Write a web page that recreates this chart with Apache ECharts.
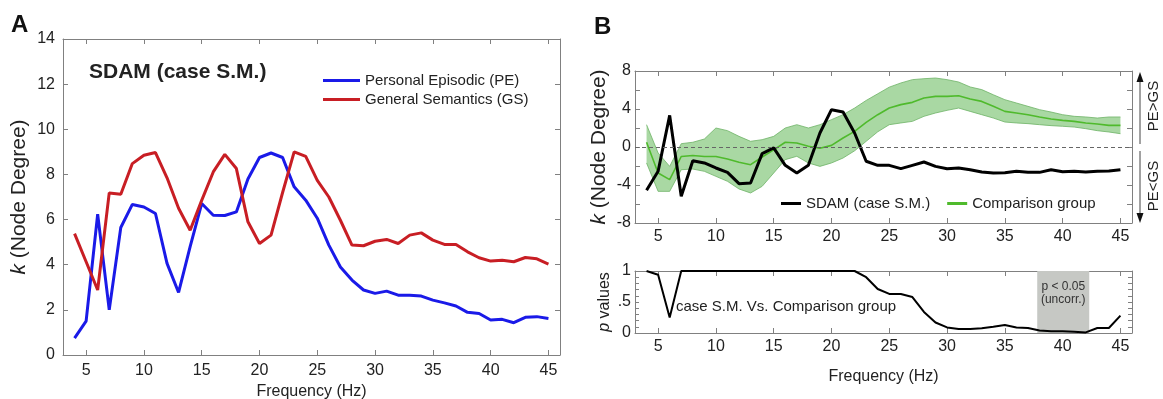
<!DOCTYPE html>
<html>
<head>
<meta charset="utf-8">
<script src="https://cdn.jsdelivr.net/npm/echarts@6/dist/echarts.min.js"></script>
<style>
  html, body { margin: 0; padding: 0; background: #fff; }
  #chart { width: 1163px; height: 399px; }
</style>
</head>
<body>
<div id="chart"></div>
<script>
// frequencies (Hz), shared by every panel
const freq = [4, 5, 6, 7, 8, 9, 10, 11, 12, 13, 14, 15, 16, 17, 18, 19, 20, 21, 22, 23, 24,
  25, 26, 27, 28, 29, 30, 31, 32, 33, 34, 35, 36, 37, 38, 39, 40, 41, 42, 43, 44, 45];
const xTicks = [5, 10, 15, 20, 25, 30, 35, 40, 45];

// panel A
const peDegree = [0.75, 1.5, 6.24, 2.0, 5.65, 6.67, 6.56, 6.27, 4.06, 2.77, 4.8, 6.71, 6.19, 6.18,
  6.34, 7.8, 8.75, 8.95, 8.75, 7.45, 6.86, 6.06, 4.87, 3.9, 3.32, 2.88, 2.73, 2.83, 2.65, 2.65,
  2.61, 2.43, 2.31, 2.17, 1.89, 1.84, 1.55, 1.58, 1.43, 1.67, 1.7, 1.62];
const gsDegree = [5.38, 4.13, 2.88, 7.18, 7.12, 8.48, 8.85, 8.97, 7.85, 6.5, 5.53, 6.85, 8.11, 8.89,
  8.26, 5.9, 4.94, 5.31, 7.2, 9.0, 8.8, 7.74, 7.0, 5.97, 4.87, 4.84, 5.04, 5.12, 4.94, 5.31,
  5.41, 5.09, 4.9, 4.9, 4.57, 4.31, 4.16, 4.2, 4.13, 4.32, 4.26, 4.03];

// panel B, top: PE - GS difference
const sdamDiff = [-4.56, -2.56, 3.33, -5.19, -1.44, -1.68, -2.21, -2.67, -3.86, -3.79, -0.7, -0.1,
  -1.93, -2.74, -1.93, 1.47, 3.93, 3.68, 1.47, -1.5, -1.93, -1.93, -2.28, -1.93, -1.58, -2.04,
  -2.28, -2.21, -2.39, -2.63, -2.74, -2.7, -2.56, -2.67, -2.67, -2.39, -2.6, -2.56, -2.63,
  -2.56, -2.53, -2.39];
const groupMean = [0.5, -2.74, -3.44, -1.0, -0.9, -1.0, -1.0, -1.26, -1.61, -1.86, -1.05, -0.3, 0.5,
  0.42, 0.07, -0.14, 0.17, 0.95, 1.65, 2.6, 3.4, 4.1, 4.46, 4.7, 5.16, 5.33, 5.33, 5.4, 5.05,
  4.8, 4.28, 3.75, 3.58, 3.4, 3.16, 2.95, 2.8, 2.7, 2.53, 2.42, 2.28, 2.28];
const groupUpper = [2.35, -0.63, -2.04, 0.35, 0.5, 0.84, 2.0, 1.72, 1.12, 0.6, 0.77, 1.12, 2.0, 2.35,
  2.0, 2.35, 2.88, 3.4, 4.1, 4.9, 5.6, 6.3, 6.74, 7.09, 7.19, 7.26, 7.09, 6.84, 6.32, 6.04,
  5.5, 4.98, 4.63, 4.28, 3.93, 3.68, 3.4, 3.23, 3.16, 3.05, 3.16, 3.16];
const groupLower = [-1.68, -4.67, -4.67, -2.39, -2.32, -2.56, -3.09, -3.61, -4.42, -4.84, -4.14,
  -2.74, -1.33, -0.98, -1.68, -2.04, -1.68, -1.16, -0.4, 0.6, 1.6, 2.35, 2.53, 2.7, 3.23,
  3.58, 3.86, 4.1, 3.75, 3.4, 3.05, 2.63, 2.53, 2.46, 2.35, 2.25, 2.18, 2.1, 1.93, 1.72,
  1.58, 1.4];

// panel B, bottom: p values
const pValues = [1.0, 0.94, 0.25, 1, 1, 1, 1, 1, 1, 1, 1, 1, 1, 1, 1, 1, 1, 1, 1, 0.9, 0.71,
  0.63, 0.63, 0.58, 0.34, 0.17, 0.09, 0.065, 0.065, 0.076, 0.1, 0.13, 0.09, 0.08, 0.04, 0.03,
  0.03, 0.02, 0.01, 0.08, 0.08, 0.28];
const sigRange = [37.8, 42.3];

const FONT = 'Liberation Sans, Arial, sans-serif';
const AXIS = '#808080';
const TXT = '#222';

const pairs = vals => freq.map((f, i) => [f, vals[i]]);

const xAxisCfg = (gridIndex, position, showLabel, extra) => Object.assign({
  type: 'value',
  gridIndex: gridIndex,
  position: position,
  min: 3,
  max: 46,
  axisLine: { show: true, onZero: false, lineStyle: { color: AXIS, width: 1 } },
  axisTick: { show: true, inside: true, length: 5, customValues: xTicks, lineStyle: { color: AXIS } },
  axisLabel: { show: showLabel, customValues: xTicks, color: TXT, fontSize: 16, fontFamily: FONT, margin: 8 },
  splitLine: { show: false },
}, extra || {});

const yAxisCfg = (gridIndex, position, showLabel, min, max, interval, formatter, extra) => Object.assign({
  type: 'value',
  gridIndex: gridIndex,
  position: position,
  min: min,
  max: max,
  interval: interval,
  axisLine: { show: true, onZero: false, lineStyle: { color: AXIS, width: 1 } },
  axisTick: { show: true, inside: true, length: 5, lineStyle: { color: AXIS } },
  axisLabel: { show: showLabel, color: TXT, fontSize: 16, fontFamily: FONT, margin: 8, formatter: formatter },
  splitLine: { show: false },
}, extra || {});

const kName = {
  name: '{i|k} (Node Degree)',
  nameLocation: 'middle',
  nameTextStyle: {
    color: TXT, fontSize: 21, fontFamily: FONT,
    rich: { i: { fontStyle: 'italic', fontSize: 21, fontFamily: FONT, color: TXT } }
  }
};

// shaded spread of the comparison group, drawn as one polygon in data coordinates
const renderBand = (params, api) => {
  if (params.dataIndex !== 0) return null;
  const top = freq.map((f, i) => api.coord([f, groupUpper[i]]));
  const bottom = freq.map((f, i) => api.coord([f, groupLower[i]])).reverse();
  return {
    type: 'polygon',
    shape: { points: top.concat(bottom) },
    style: { fill: '#a9d8a3', stroke: null },
  };
};

const chart = echarts.init(document.getElementById('chart'));

const option = {
  backgroundColor: '#fff',
  animation: false,
  textStyle: { fontFamily: FONT },
  grid: [
    { left: 63, top: 39, width: 497, height: 316, outerBoundsMode: 'none' },
    { left: 635, top: 71, width: 497, height: 152, outerBoundsMode: 'none' },
    { left: 635, top: 271, width: 497, height: 62, outerBoundsMode: 'none' },
  ],
  xAxis: [
    xAxisCfg(0, 'bottom', true, { name: 'Frequency (Hz)', nameLocation: 'middle', nameGap: 25,
      nameTextStyle: { color: TXT, fontSize: 16, fontFamily: FONT } }),
    xAxisCfg(0, 'top', false),
    xAxisCfg(1, 'bottom', true, { axisLabel: { customValues: xTicks, color: TXT, fontSize: 16, fontFamily: FONT, margin: 6 } }),
    xAxisCfg(1, 'top', false),
    xAxisCfg(2, 'bottom', true, { name: 'Frequency (Hz)', nameLocation: 'middle', nameGap: 36,
      nameTextStyle: { color: TXT, fontSize: 16, fontFamily: FONT },
      axisLabel: { customValues: xTicks, color: TXT, fontSize: 16, fontFamily: FONT, margin: 6 } }),
    xAxisCfg(2, 'top', false),
  ],
  yAxis: [
    yAxisCfg(0, 'left', true, 0, 14, 2, null, Object.assign({ nameGap: 33 }, kName)),
    yAxisCfg(0, 'right', false, 0, 14, 2),
    yAxisCfg(1, 'left', true, -8, 8, 2, null,
      Object.assign({ nameGap: 25 }, kName, {
        axisLabel: { color: TXT, fontSize: 16, fontFamily: FONT, margin: 4,
          formatter: v => (v % 4 === 0 ? String(v) : '') }
      })),
    yAxisCfg(1, 'right', false, -8, 8, 2),
    yAxisCfg(2, 'left', true, 0, 1, 0.1, null, {
      name: '{i|p} values',
      nameLocation: 'middle',
      nameGap: 22,
      nameTextStyle: {
        color: TXT, fontSize: 16, fontFamily: FONT,
        rich: { i: { fontStyle: 'italic', fontSize: 16, fontFamily: FONT, color: TXT } }
      },
      axisTick: { show: true, inside: true, length: 4, lineStyle: { color: AXIS } },
      axisLabel: { color: TXT, fontSize: 16, fontFamily: FONT, margin: 4,
        formatter: v => (Math.abs(v) < 1e-6 ? '0' : Math.abs(v - 0.5) < 1e-6 ? '.5' : Math.abs(v - 1) < 1e-6 ? '1' : '') }
    }),
    yAxisCfg(2, 'right', false, 0, 1, 0.1, null, {
      axisTick: { show: true, inside: true, length: 4, lineStyle: { color: AXIS } }
    }),
  ],
  legend: [
    {
      data: ['Personal Episodic (PE)', 'General Semantics (GS)'],
      orient: 'vertical',
      left: 318,
      top: 68,
      icon: 'rect',
      itemWidth: 37,
      itemHeight: 3,
      itemGap: 4,
      textStyle: { color: TXT, fontSize: 15, fontFamily: FONT },
    },
    {
      data: ['SDAM (case S.M.)', 'Comparison group'],
      orient: 'horizontal',
      left: 776,
      top: 191,
      icon: 'rect',
      itemWidth: 20,
      itemHeight: 3,
      itemGap: 17,
      textStyle: { color: TXT, fontSize: 15, fontFamily: FONT },
    },
  ],
  series: [
    {
      name: 'Personal Episodic (PE)', type: 'line', xAxisIndex: 0, yAxisIndex: 0,
      data: pairs(peDegree), showSymbol: false, color: '#1a1ae8',
      lineStyle: { width: 3, color: '#1a1ae8' },
    },
    {
      name: 'General Semantics (GS)', type: 'line', xAxisIndex: 0, yAxisIndex: 0,
      data: pairs(gsDegree), showSymbol: false, color: '#c81e24',
      lineStyle: { width: 3, color: '#c81e24' },
    },
    {
      name: 'band', type: 'custom', xAxisIndex: 2, yAxisIndex: 2,
      data: pairs(groupMean), renderItem: renderBand, silent: true, clip: true, z: 1,
    },
    {
      name: 'bandLower', type: 'line', xAxisIndex: 2, yAxisIndex: 2,
      data: pairs(groupLower), showSymbol: false, silent: true,
      lineStyle: { width: 0.8, color: '#6db266' },
    },
    {
      name: 'bandUpper', type: 'line', xAxisIndex: 2, yAxisIndex: 2,
      data: pairs(groupUpper), showSymbol: false, silent: true,
      lineStyle: { width: 0.8, color: '#6db266' },
    },
    {
      name: 'Comparison group', type: 'line', xAxisIndex: 2, yAxisIndex: 2,
      data: pairs(groupMean), showSymbol: false, color: '#4fba2c',
      lineStyle: { width: 1.6, color: '#4fba2c' },
      markLine: {
        silent: true, symbol: 'none', label: { show: false },
        lineStyle: { type: [4, 3], color: '#666', width: 1 },
        data: [{ yAxis: 0 }],
      },
    },
    {
      name: 'SDAM (case S.M.)', type: 'line', xAxisIndex: 2, yAxisIndex: 2,
      data: pairs(sdamDiff), showSymbol: false, color: '#000',
      lineStyle: { width: 3, color: '#000' },
    },
    {
      name: 'p', type: 'line', xAxisIndex: 4, yAxisIndex: 4,
      data: pairs(pValues), showSymbol: false, color: '#000',
      lineStyle: { width: 2, color: '#000' },
      markArea: {
        silent: true,
        itemStyle: { color: '#c6c8c4' },
        label: {
          show: true, position: 'insideTop', distance: 9,
          formatter: 'p < 0.05\n(uncorr.)', color: '#333', fontSize: 12, lineHeight: 13, fontFamily: FONT
        },
        data: [[{ xAxis: sigRange[0] }, { xAxis: sigRange[1] }]],
      },
    },
  ],
  graphic: [
    { type: 'text', left: 11, top: 13, style: { text: 'A', font: 'bold 24px ' + FONT, fill: '#111' } },
    { type: 'text', left: 594, top: 15, style: { text: 'B', font: 'bold 24px ' + FONT, fill: '#111' } },
    { type: 'text', left: 89, top: 62, style: { text: 'SDAM (case S.M.)', font: 'bold 21px ' + FONT, fill: '#222' } },
    { type: 'text', left: 676, top: 299, style: { text: 'case S.M. Vs. Comparison group', font: '15px ' + FONT, fill: TXT } },
    { type: 'text', x: 1154, y: 106, rotation: Math.PI / 2,
      style: { text: 'PE>GS', font: '15px ' + FONT, fill: TXT, align: 'center', verticalAlign: 'middle' } },
    { type: 'text', x: 1154, y: 186, rotation: Math.PI / 2,
      style: { text: 'PE<GS', font: '15px ' + FONT, fill: TXT, align: 'center', verticalAlign: 'middle' } },
    { type: 'line', shape: { x1: 1140, y1: 80, x2: 1140, y2: 144 }, style: { stroke: '#444', lineWidth: 1 } },
    { type: 'line', shape: { x1: 1140, y1: 151, x2: 1140, y2: 215 }, style: { stroke: '#444', lineWidth: 1 } },
    { type: 'polygon', shape: { points: [[1140, 72], [1136.5, 82], [1143.5, 82]] }, style: { fill: '#111' } },
    { type: 'polygon', shape: { points: [[1140, 223], [1136.5, 213], [1143.5, 213]] }, style: { fill: '#111' } },
  ],
};

chart.setOption(option);
</script>
</body>
</html>
